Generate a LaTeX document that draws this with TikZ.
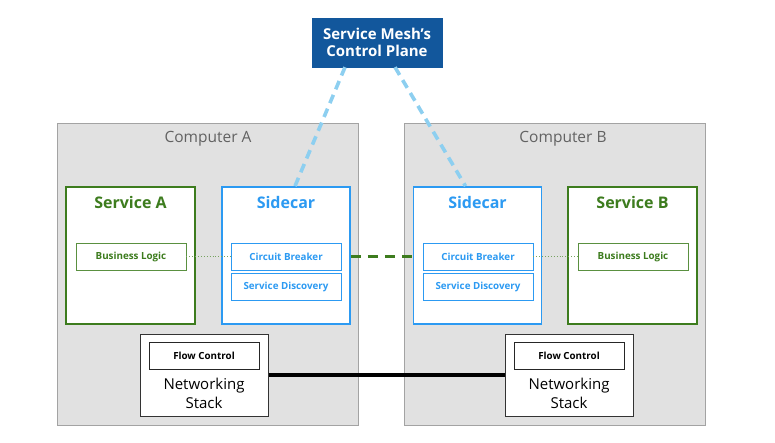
\documentclass[tikz,border=0pt]{standalone}
\usepackage{fontspec}
\setmainfont{Open Sans}
\usepackage{xcolor}
\usepackage{tikz}
\usetikzlibrary{calc, positioning}

\definecolor{hostgray}{HTML}{E1E1E1}
\definecolor{hostline}{HTML}{A3A3A3}
\definecolor{svcgreen}{HTML}{3D7C1E}
\definecolor{carblue}{HTML}{2C9AF2}
\definecolor{planeblue}{HTML}{12579C}
\definecolor{linkblue}{HTML}{8DCFF0}
\definecolor{titlegray}{HTML}{626262}

\begin{document}
\begin{tikzpicture}[x=1pt,y=-1pt,
    host/.style={draw=hostline,fill=hostgray,line width=0.9pt,minimum width=301pt,minimum height=302pt,inner sep=0pt},
    hosttitle/.style={text=titlegray,font=\fontsize{15.5}{17}\selectfont},
    svc box/.style={draw=svcgreen,fill=white,line width=1.8pt,minimum width=129pt,minimum height=137pt,inner sep=0pt},
    car box/.style={draw=carblue,fill=white,line width=1.8pt,minimum width=128pt,minimum height=137pt,inner sep=0pt},
    svc title/.style={text=svcgreen,font=\fontsize{16}{18}\selectfont\bfseries},
    car title/.style={text=carblue,font=\fontsize{16}{18}\selectfont\bfseries},
    part/.style={fill=white,line width=0.8pt,minimum width=110pt,minimum height=27pt,inner sep=0pt,font=\fontsize{9.8}{11}\selectfont\bfseries},
    logic part/.style={part,draw=svcgreen!85,text=svcgreen},
    car part/.style={part,draw=carblue,text=carblue},
    net box/.style={draw=black!80,fill=white,line width=1pt,minimum width=128pt,minimum height=82pt,inner sep=0pt},
    net part/.style={part,draw=black!85,text=black},
    plane link/.style={draw=linkblue,line width=3.6pt,dash pattern=on 9pt off 6pt},
    mesh link/.style={draw=svcgreen,line width=3.6pt,dash pattern=on 10pt off 7pt},
    wire/.style={draw=black,line width=4.5pt},
    local link/.style={draw=svcgreen!70,line width=0.9pt,dotted}]

  \useasboundingbox (0,0) rectangle (775,443);

  % hosts
  \node[host] (compA) at (208,274) {};
  \node[host] (compB) at (555,274) {};
  \node[hosttitle] at (208,139) {Computer A};
  \node[hosttitle] at (563,139) {Computer B};

  % control plane
  \node[draw=planeblue,fill=planeblue,text=white,minimum width=130pt,minimum height=49pt,inner sep=0pt,
        align=center,font=\fontsize{15}{17.5}\selectfont\bfseries] (plane) at (377,42.5) {Service Mesh's\\Control Plane};

  % computer A
  \node[svc box] (svcA) at (130.5,255.5) {};
  \node[svc title] at (130.5,203) {Service A};
  \node[logic part] (logicA) at (131,256.5) {Business Logic};
  \node[car box] (sideA) at (286,255.5) {};
  \node[car title] at (286,203) {Sidecar};
  \node[car part] (cbA) at (286,256.5) {Circuit Breaker};
  \node[car part] (sdA) at (286,287) {Service Discovery};
  \node[net box] (netA) at (204,375) {};
  \node[net part] (flowA) at (204,355.5) {Flow Control};
  \node[align=center,font=\fontsize{15}{19}\selectfont] at (204,393.5) {Networking\\Stack};

  % computer B
  \node[car box] (sideB) at (477.5,255.5) {};
  \node[car title] at (477.5,203) {Sidecar};
  \node[car part] (cbB) at (478,256.5) {Circuit Breaker};
  \node[car part] (sdB) at (478,287) {Service Discovery};
  \node[svc box] (svcB) at (632.5,255.5) {};
  \node[svc title] at (632.5,203) {Service B};
  \node[logic part] (logicB) at (633,256.5) {Business Logic};
  \node[net box] (netB) at (569,375) {};
  \node[net part] (flowB) at (569,355.5) {Flow Control};
  \node[align=center,font=\fontsize{15}{19}\selectfont] at (569,393.5) {Networking\\Stack};

  % links
  \path[plane link] ($(plane.south)+(-32,0)$) -- ($(sideA.north)+(9,0)$);
  \path[plane link] ($(plane.south)+(18,0)$) -- ($(sideB.north)+(-12,0)$);
  \path[local link] (logicA.east) -- (cbA.west);
  \path[local link] (cbB.east) -- (logicB.west);
  \path[mesh link] (sideA.east |- cbA) -- (sideB.west |- cbB);
  \path[wire] (netA.east) -- (netB.west);

\end{tikzpicture}
\end{document}
